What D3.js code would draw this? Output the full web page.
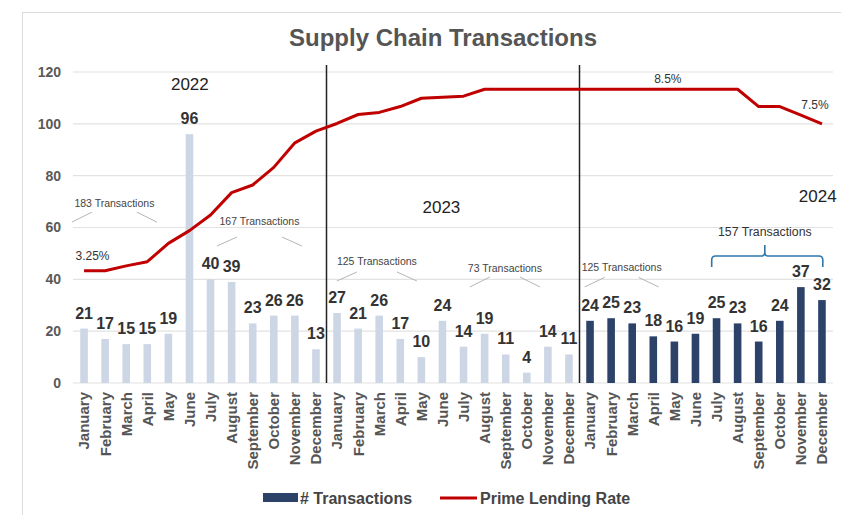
<!DOCTYPE html>
<html>
<head>
<meta charset="utf-8">
<script src="https://cdn.jsdelivr.net/npm/d3@7"></script>
<style>
  body { margin: 0; background: #fff; }
  text { font-family: 'Liberation Sans', Arial, sans-serif; }
</style>
</head>
<body>
<svg id="chart"></svg>
<script>
const years = ['2022', '2023', '2024'];
const months = ['January', 'February', 'March', 'April', 'May', 'June', 'July',
  'August', 'September', 'October', 'November', 'December'];

const transactions2022 = [21, 17, 15, 15, 19, 96, 40, 39, 23, 26, 26, 13];
const transactions2023 = [27, 21, 26, 17, 10, 24, 14, 19, 11, 4, 14, 11];
const transactions2024 = [24, 25, 23, 18, 16, 19, 25, 23, 16, 24, 37, 32];

// prime lending rate (%)
const rate2022 = [3.25, 3.25, 3.39, 3.51, 4.04, 4.41, 4.86, 5.51, 5.73, 6.24, 6.95, 7.29];
const rate2023 = [7.51, 7.77, 7.83, 8.0, 8.24, 8.27, 8.3, 8.5, 8.5, 8.5, 8.5, 8.5];
const rate2024 = [8.5, 8.5, 8.5, 8.5, 8.5, 8.5, 8.5, 8.5, 8.0, 8.0, 7.75, 7.5];

const yTicks = [0, 20, 40, 60, 80, 100, 120];

const width = 841;
const height = 515;

const rows = [];
[transactions2022, transactions2023, transactions2024].forEach((vals, yi) => {
  const rates = [rate2022, rate2023, rate2024][yi];
  vals.forEach((v, mi) => rows.push({
    key: years[yi] + '-' + months[mi],
    year: years[yi],
    month: months[mi],
    value: v,
    rate: rates[mi]
  }));
});

const svg = d3.select('#chart')
  .attr('width', width)
  .attr('height', height);

// outer frame
svg.append('rect')
  .attr('x', 22.5)
  .attr('y', 12.5)
  .attr('width', 900)
  .attr('height', 600)
  .attr('fill', 'none')
  .attr('stroke', '#dcdcdc');

svg.append('text')
  .attr('x', 443)
  .attr('y', 46)
  .attr('text-anchor', 'middle')
  .attr('font-size', 24)
  .attr('font-weight', 'bold')
  .attr('fill', '#555')
  .text('Supply Chain Transactions');

const x = d3.scaleBand()
  .domain(rows.map(d => d.key))
  .range([73.5, 832.5])
  .paddingInner(0.64)
  .paddingOuter(0.32);

const y = d3.scaleLinear()
  .domain([0, 120])
  .range([383, 72]);

const yRate = d3.scaleLinear()
  .domain([0, 9])
  .range([383, 72]);

const cx = k => x(k) + x.bandwidth() / 2;
const xAt = f => x.range()[0] + f * x.step();

// grid
svg.append('g')
  .selectAll('line')
  .data(yTicks)
  .join('line')
    .attr('x1', 73)
    .attr('x2', 833)
    .attr('y1', d => y(d))
    .attr('y2', d => y(d))
    .attr('stroke', '#e2e2e2')
    .attr('stroke-width', 1.2);

const yAxis = svg.append('g')
  .attr('transform', 'translate(61,0)')
  .call(d3.axisLeft(y).tickValues(yTicks).tickSize(0).tickPadding(0));
yAxis.select('.domain').remove();
yAxis.selectAll('text')
  .attr('font-size', 14)
  .attr('font-weight', 'bold')
  .attr('fill', '#595959')
  .attr('font-family', "'Liberation Sans', Arial, sans-serif");

const xAxis = svg.append('g')
  .attr('transform', 'translate(0,383)')
  .call(d3.axisBottom(x).tickSize(0).tickFormat(k => k.split('-')[1]));
xAxis.select('.domain').remove();
xAxis.selectAll('text')
  .attr('transform', 'rotate(-90)')
  .attr('text-anchor', 'end')
  .attr('x', -9)
  .attr('y', 0)
  .attr('dy', '0.36em')
  .attr('font-size', 15)
  .attr('font-weight', 'bold')
  .attr('fill', '#555')
  .attr('font-family', "'Liberation Sans', Arial, sans-serif");

// bars
svg.append('g')
  .selectAll('rect')
  .data(rows)
  .join('rect')
    .attr('x', d => x(d.key))
    .attr('y', d => y(d.value))
    .attr('width', x.bandwidth())
    .attr('height', d => y(0) - y(d.value))
    .attr('fill', d => d.year === '2024' ? '#2d4269' : '#cdd6e5');

svg.append('g')
  .selectAll('text')
  .data(rows)
  .join('text')
    .attr('x', d => cx(d.key))
    .attr('y', d => y(d.value) - 10)
    .attr('text-anchor', 'middle')
    .attr('font-size', 16)
    .attr('font-weight', 'bold')
    .attr('fill', '#333')
    .text(d => d.value);

// year separators
svg.append('g')
  .selectAll('line')
  .data([12, 24])
  .join('line')
    .attr('x1', d => xAt(d))
    .attr('x2', d => xAt(d))
    .attr('y1', 65)
    .attr('y2', y(0))
    .attr('stroke', '#222')
    .attr('stroke-width', 1.5);

// prime rate line
const line = d3.line()
  .x(d => cx(d.key))
  .y(d => yRate(d.rate));

svg.append('path')
  .datum(rows)
  .attr('d', line)
  .attr('fill', 'none')
  .attr('stroke', '#c00000')
  .attr('stroke-width', 3)
  .attr('stroke-linejoin', 'round');

const rateLabels = [
  { i: 0, dx: 8.5, dy: -11 },
  { i: 28, dx: -6.5, dy: -6.5 },
  { i: 35, dx: -7, dy: -15 }
];
svg.append('g')
  .selectAll('text')
  .data(rateLabels)
  .join('text')
    .attr('x', d => cx(rows[d.i].key) + d.dx)
    .attr('y', d => yRate(rows[d.i].rate) + d.dy)
    .attr('text-anchor', 'middle')
    .attr('font-size', 12)
    .attr('fill', '#333')
    .text(d => rows[d.i].rate + '%');

// year labels
const yearPos = [{ f: 5.52, v: 113 }, { f: 17.45, v: 65.5 }, { f: 35.3, v: 70 }];
svg.append('g')
  .selectAll('text')
  .data(years)
  .join('text')
    .attr('x', (d, i) => xAt(yearPos[i].f))
    .attr('y', (d, i) => y(yearPos[i].v))
    .attr('text-anchor', 'middle')
    .attr('font-size', 17)
    .attr('fill', '#222')
    .text(d => d);

// half-year totals
const halves = d3.range(6).map(h => d3.sum(rows.slice(h * 6, h * 6 + 6), d => d.value));
const halfPos = [
  { f: 1.94, v: 69.4, w: 85, d1: 9, d2: 19 },
  { f: 8.82, v: 62.5, w: 85, d1: 16, d2: 25 },
  { f: 14.39, v: 46.7, w: 80, d1: 10, d2: 19 },
  { f: 20.46, v: 44.0, w: 70, d1: 8, d2: 18 },
  { f: 26.0, v: 44.4, w: 74, d1: 9.5, d2: 19 }
];

const ann = svg.append('g')
  .selectAll('g')
  .data(halfPos)
  .join('g')
    .attr('transform', (d, i) => 'translate(' + xAt(d.f) + ',' + y(d.v) + ')');

ann.append('text')
  .attr('y', 3.5)
  .attr('text-anchor', 'middle')
  .attr('font-size', 10.5)
  .attr('fill', '#444')
  .text((d, i) => halves[i] + ' Transactions');

ann.append('path')
  .attr('d', d => 'M' + (-d.w / 2) + ',' + d.d2 + 'L' + (-d.w / 2 + 20) + ',' + d.d1
    + 'M' + (d.w / 2 - 20) + ',' + d.d1 + 'L' + (d.w / 2) + ',' + d.d2)
  .attr('fill', 'none')
  .attr('stroke', '#b5b5b5')
  .attr('stroke-width', 1);

// last half gets a brace
const bx0 = xAt(30.27);
const bx1 = xAt(35.54);
const bmid = xAt(32.79);
svg.append('text')
  .attr('x', bmid)
  .attr('y', y(58.3) + 4)
  .attr('text-anchor', 'middle')
  .attr('font-size', 12.3)
  .attr('fill', '#333')
  .text(halves[5] + ' Transactions');

svg.append('path')
  .attr('d', 'M' + bx0 + ',267 L' + bx0 + ',260 Q' + bx0 + ',256 ' + (bx0 + 4) + ',256'
    + ' L' + (bmid - 3) + ',256 Q' + bmid + ',256 ' + bmid + ',252 L' + bmid + ',245'
    + ' M' + bmid + ',252 Q' + bmid + ',256 ' + (bmid + 3) + ',256'
    + ' L' + (bx1 - 4) + ',256 Q' + bx1 + ',256 ' + bx1 + ',260 L' + bx1 + ',267')
  .attr('fill', 'none')
  .attr('stroke', '#2f77aa')
  .attr('stroke-width', 1.6);

// legend
const legend = svg.append('g');
legend.append('rect')
  .attr('x', 263)
  .attr('y', 493)
  .attr('width', 35)
  .attr('height', 9)
  .attr('fill', '#2d4269');
legend.append('text')
  .attr('x', 300)
  .attr('y', 503.5)
  .attr('font-size', 16)
  .attr('font-weight', 'bold')
  .attr('fill', '#444')
  .text('# Transactions');
legend.append('line')
  .attr('x1', 440)
  .attr('x2', 477)
  .attr('y1', 498)
  .attr('y2', 498)
  .attr('stroke', '#c00000')
  .attr('stroke-width', 3);
legend.append('text')
  .attr('x', 480)
  .attr('y', 503.5)
  .attr('font-size', 16)
  .attr('font-weight', 'bold')
  .attr('fill', '#444')
  .text('Prime Lending Rate');
</script>
</body>
</html>
